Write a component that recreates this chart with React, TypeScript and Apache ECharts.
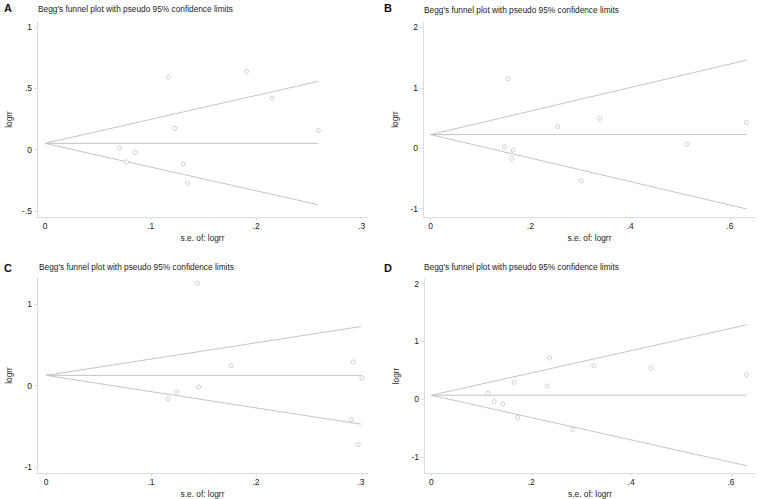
import React, { useEffect, useRef } from "react";
import * as echarts from "echarts";

// Panel A
const seA = [0.0704, 0.0774, 0.0853, 0.117, 0.123, 0.131, 0.135, 0.191, 0.215, 0.259];
const logrrA = [0.016, -0.1, -0.024, 0.592, 0.173, -0.116, -0.276, 0.638, 0.419, 0.154];
const funnelA = { center: 0.051, seMax: 0.259, upper: 0.557, lower: -0.449 };
const xTicksA = [0, 0.1, 0.2, 0.3];
const yTicksA = [-0.5, 0, 0.5, 1];

// Panel B
const seB = [0.148, 0.1555, 0.163, 0.1655, 0.255, 0.302, 0.339, 0.513, 0.633];
const logrrB = [0.022, 1.15, -0.17, -0.033, 0.358, -0.539, 0.495, 0.066, 0.424];
const funnelB = { center: 0.226, seMax: 0.633, upper: 1.458, lower: -1.006 };
const xTicksB = [0, 0.2, 0.4, 0.6];
const yTicksB = [-1, 0, 1, 2];

// Panel C
const seC = [0.1164, 0.1243, 0.1443, 0.1453, 0.1763, 0.2927, 0.2911, 0.3007, 0.2975];
const logrrC = [-0.16, -0.078, 1.254, -0.016, 0.246, 0.291, -0.414, 0.098, -0.721];
const funnelC = { center: 0.127, seMax: 0.3, upper: 0.725, lower: -0.471 };
const xTicksC = [0, 0.1, 0.2, 0.3];
const yTicksC = [-1, 0, 1];

// Panel D
const seD = [0.1133, 0.126, 0.143, 0.166, 0.1727, 0.232, 0.2367, 0.2827, 0.3253, 0.44, 0.631];
const logrrD = [0.103, -0.04, -0.08, 0.293, -0.316, 0.23, 0.713, -0.523, 0.58, 0.534, 0.425];
const funnelD = { center: 0.069, seMax: 0.631, upper: 1.287, lower: -1.149 };
const xTicksD = [0, 0.2, 0.4, 0.6];
const yTicksD = [-1, 0, 1, 2];

const panelLabels = ["A", "B", "C", "D"];
const titleText = "Begg's funnel plot with pseudo 95% confidence limits";

const FONT = "'Liberation Sans', Arial, sans-serif";

const stataFmt = (v: number) => {
  const r = Math.round(v * 1000) / 1000;
  if (r === 0) return "0";
  let s = String(r);
  s = s.replace(/^0\./, ".").replace(/^-0\./, "-.");
  return s;
};

export default function App() {
  const ref = useRef<HTMLDivElement>(null);
  useEffect(() => {
    if (!ref.current) return;
    const chart = echarts.init(ref.current, undefined, { renderer: "svg" });

    const panels = [
      { se: seA, y: logrrA, f: funnelA, xt: xTicksA, yt: yTicksA, grid: { left: 37, top: 22, width: 331, height: 195 }, xr: [-0.0076, 0.306], yr: [-0.549, 1.04], tx: 38, ty: 10, lx: 4, ly: 7.5 },
      { se: seB, y: logrrB, f: funnelB, xt: xTicksB, yt: yTicksB, grid: { left: 423, top: 22, width: 333, height: 195 }, xr: [-0.015, 0.652], yr: [-1.139, 2.09], tx: 424, ty: 10.5, lx: 384, ly: 7.5 },
      { se: seC, y: logrrC, f: funnelC, xt: xTicksC, yt: yTicksC, grid: { left: 37, top: 278, width: 331, height: 195 }, xr: [-0.0086, 0.3067], yr: [-1.07, 1.32], tx: 39, ty: 268, lx: 4, ly: 267 },
      { se: seD, y: logrrD, f: funnelD, xt: xTicksD, yt: yTicksD, grid: { left: 424, top: 279, width: 332, height: 195 }, xr: [-0.0146, 0.65], yr: [-1.276, 2.08], tx: 424, ty: 268, lx: 384, ly: 267 },
    ];

    const axisLineColor = "#dcdcdc";
    const labelStyle = { color: "#222", fontSize: 8.5, fontFamily: FONT };

    const grid: any[] = [];
    const xAxis: any[] = [];
    const yAxis: any[] = [];
    const series: any[] = [];
    const graphic: any[] = [];

    panels.forEach((p, i) => {
      grid.push({ ...p.grid, containLabel: false });
      xAxis.push({
        type: "value",
        gridIndex: i,
        min: p.xr[0],
        max: p.xr[1],
        name: "s.e. of: logrr",
        nameLocation: "middle",
        nameGap: 17,
        nameTextStyle: { color: "#222", fontSize: 8.3, fontFamily: FONT },
        splitLine: { show: false },
        axisLine: { show: true, onZero: false, lineStyle: { color: axisLineColor, width: 1 } },
        axisTick: { show: true, length: 3, customValues: p.xt, lineStyle: { color: axisLineColor } },
        axisLabel: { ...labelStyle, margin: 4, customValues: p.xt, formatter: stataFmt },
      });
      yAxis.push({
        type: "value",
        gridIndex: i,
        min: p.yr[0],
        max: p.yr[1],
        name: "logrr",
        nameLocation: "middle",
        nameGap: 24,
        nameRotate: 90,
        nameTextStyle: { color: "#222", fontSize: 8.3, fontFamily: FONT },
        splitLine: { show: false },
        axisLine: { show: true, onZero: false, lineStyle: { color: axisLineColor, width: 1 } },
        axisTick: { show: true, length: 3, customValues: p.yt, lineStyle: { color: axisLineColor } },
        axisLabel: { ...labelStyle, margin: 5, customValues: p.yt, formatter: stataFmt },
      });
      const lineStyle = { color: "#c4c4c4", width: 1 };
      const mkLine = (data: number[][]) => ({
        type: "line",
        xAxisIndex: i,
        yAxisIndex: i,
        data,
        showSymbol: false,
        symbol: "none",
        lineStyle,
        silent: true,
      });
      series.push(mkLine([[0, p.f.center], [p.f.seMax, p.f.upper]]));
      series.push(mkLine([[0, p.f.center], [p.f.seMax, p.f.lower]]));
      series.push(mkLine([[0, p.f.center], [p.f.seMax, p.f.center]]));
      series.push({
        type: "scatter",
        xAxisIndex: i,
        yAxisIndex: i,
        data: p.se.map((s, k) => [s, p.y[k]]),
        symbol: "circle",
        symbolSize: 4,
        z: 5,
        itemStyle: { color: "#ffffff", borderColor: "#b4b4b4", borderWidth: 0.7, opacity: 1 },
      });
      graphic.push({
        type: "text",
        left: p.lx,
        top: p.ly - 5,
        style: { text: panelLabels[i], fontSize: 11, fontWeight: "bold", fontFamily: FONT, fill: "#111" },
      });
      graphic.push({
        type: "text",
        left: p.tx,
        top: p.ty - 5,
        style: { text: titleText, fontSize: 8.3, fontFamily: FONT, fill: "#222" },
      });
    });

    chart.setOption({
      animation: false,
      backgroundColor: "#fff",
      grid,
      xAxis,
      yAxis,
      series,
      graphic,
    });
    return () => chart.dispose();
  }, []);
  return <div ref={ref} style={{ width: 762, height: 499, position: "absolute", left: 0, top: 0 }} />;
}
